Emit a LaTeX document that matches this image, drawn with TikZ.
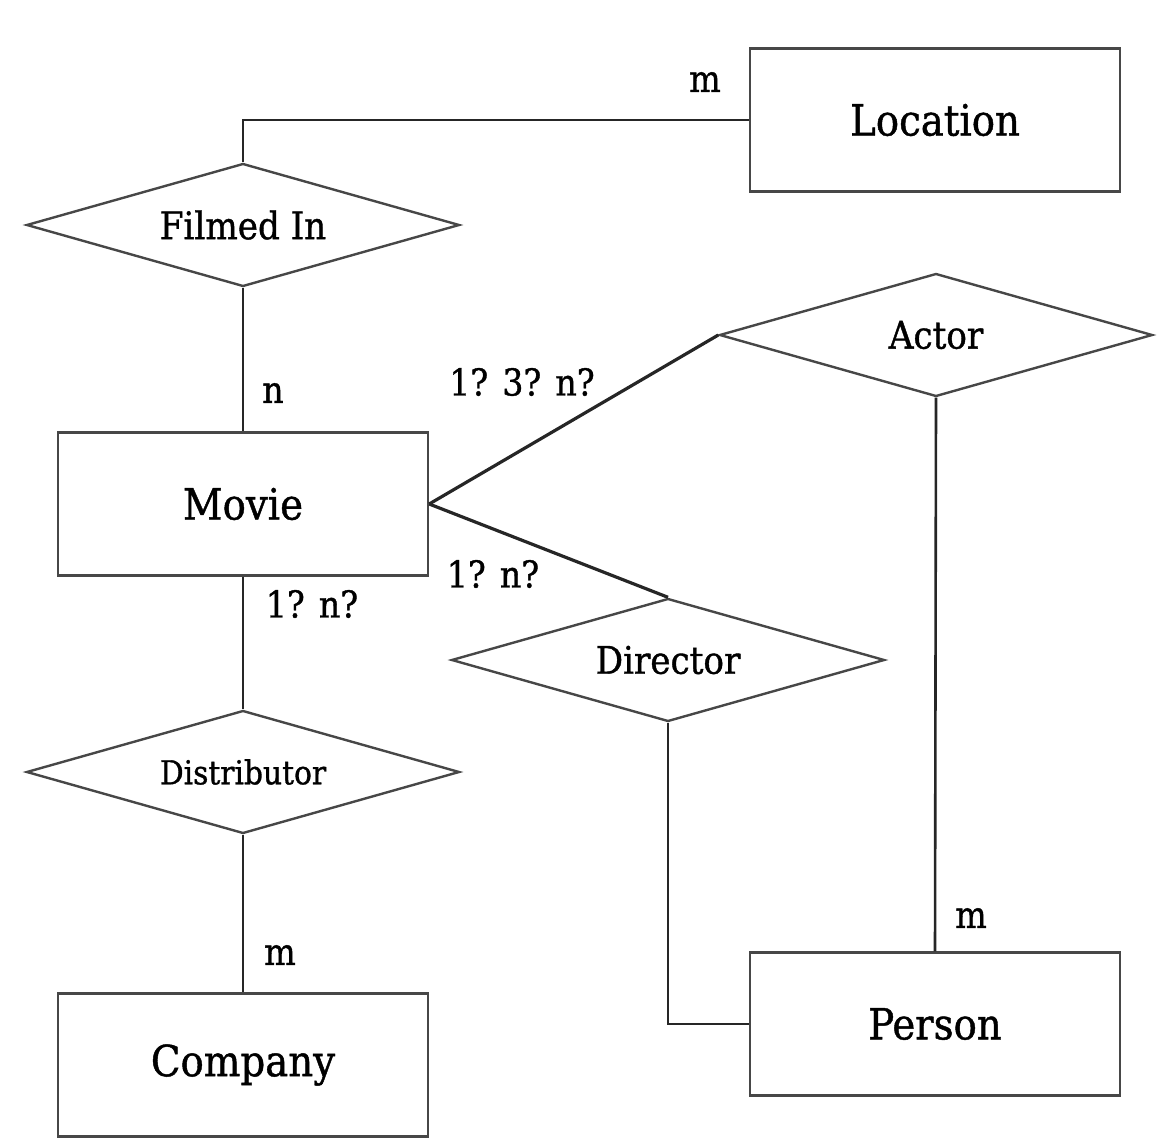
\documentclass[tikz,border=0pt]{standalone}
\usepackage{fontspec}
\setmainfont{DejaVu Serif Condensed}[FakeBold=1]
\usetikzlibrary{shapes.geometric, positioning}

\begin{document}
\begin{tikzpicture}[
        x=1pt, y=-1pt,
        entity/.style={draw=black!72, line width=2.4pt, minimum width=370pt, minimum height=143pt, inner sep=0pt, font=\fontsize{43}{50}\selectfont},
        rel/.style={draw=black!72, line width=2.4pt, diamond, aspect=3.5, minimum width=433pt, minimum height=123pt, inner sep=0pt, font=\fontsize{38}{44}\selectfont},
        link/.style={draw=black!85, line width=2.6pt},
        card/.style={font=\fontsize{37}{44}\selectfont}
    ]
        \useasboundingbox (0,0) rectangle (1158,1145);
        % entities
        \node[entity] (loc)     at (935,120)  {Location};
        \node[entity] (movie)   at (243,504)  {Movie};
        \node[entity] (company) at (243,1065) {Company};
        \node[entity] (person)  at (935,1024) {Person};
        % relationships
        \node[rel] (filmed)  at (243,225) {Filmed In};
        \node[rel] (actor)   at (936,335) {Actor};
        \node[rel] (director) at (668,660) {Director};
        \node[rel, font=\fontsize{33}{40}\selectfont] (distrib) at (243,772) {Distributor};
        % connectors
        \draw[link] (filmed.north) |- (loc.west);
        \draw[link] (filmed.south) -- (movie.north);
        \draw[link, line width=3.2pt] (movie.east) -- (actor.west);
        \draw[link, line width=3.2pt] (movie.east) -- (director.north);
        \draw[link] (movie.south) -- (distrib.north);
        \draw[link] (distrib.south) -- (company.north);
        \draw[link] (director.south) |- (person.west);
        \draw[link] (actor.south) -- (person.north);
        % cardinalities
        \node[card] (c1) at (705,82)  {m};
        \node[card] (c2) at (273,393) {n};
        \node[card] (c3) at (522,382) {1? 3? n?};
        \node[card] (c4) at (493,574) {1? n?};
        \node[card] (c5) at (312,604) {1? n?};
        \node[card] (c6) at (280,955) {m};
        \node[card] (c7) at (971,918) {m};
    \end{tikzpicture}
\end{document}
